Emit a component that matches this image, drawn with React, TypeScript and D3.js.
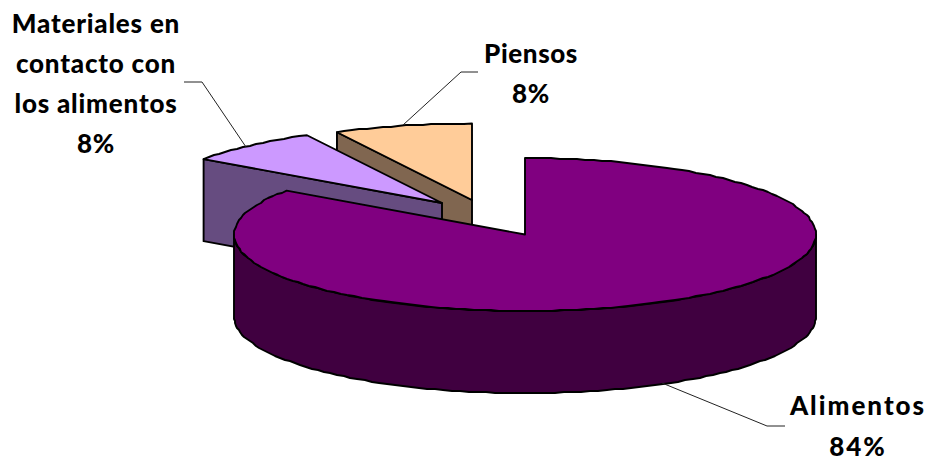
import * as d3 from 'd3';

const categories = ['Alimentos', 'Materiales en contacto con los alimentos', 'Piensos'];
const values = [84.72, 7.6, 7.68];
const topColors = ['#800080', '#CC99FF', '#FFCC99'];
const wallColors = ['#400040', '#664C80', '#806650'];

const WIDTH = 930;
const HEIGHT = 461;
const RX = 291;
const RY = 76.5;
const DEPTH = 82;
// where each exploded slice has its apex
const apexes = [
  [525, 234.5],
  [442, 203],
  [472, 200],
];

const labels = [
  { lines: ['Alimentos', '84%'], x: 858, y: 415, step: 41, spacing: 2, leader: [[662, 383], [767, 426], [785, 426]] },
  {
    lines: ['Materiales en', 'contacto con', 'los alimentos', '8%'],
    x: 96,
    y: 33,
    step: 40,
    spacing: 0.8,
    leader: [[184, 82], [202, 82], [246, 147]],
  },
  { lines: ['Piensos', '8%'], x: 531, y: 63, step: 40, spacing: 0.6, leader: [[403, 125], [461, 72], [478, 72]] },
];

const pie = d3.pie<number>().sort(null)(values);
const lineGen = d3.line();

// rounded to the pixel grid, the reference outline is a bumpy polyline
const rim = (i: number, a0: number, a1: number, dy = 0): [number, number][] => {
  const [cx, cy] = apexes[i];
  const x = d3.scaleLinear().domain([-1, 1]).range([cx - RX, cx + RX]);
  const y = d3.scaleLinear().domain([-1, 1]).range([cy - RY, cy + RY]);
  const n = Math.max(1, Math.ceil(Math.abs(a1 - a0) / 0.03));
  return d3.range(n + 1).map((k) => {
    const a = a0 + ((a1 - a0) * k) / n;
    const edge = k === 0 || k === n;
    const px = x(Math.sin(a));
    const py = y(-Math.cos(a)) + dy;
    return edge ? [px, py] : [Math.round(px), Math.round(py)];
  });
};

function Slice({ i }: { i: number }) {
  const { startAngle, endAngle } = pie[i];
  const [cx, cy] = apexes[i];
  const stroke = { stroke: '#000', strokeWidth: 1.9, strokeLinejoin: 'round' as const };

  const top = lineGen([[cx, cy], ...rim(i, startAngle, endAngle)]) + 'Z';

  const cut = (a: number) => {
    const [p] = rim(i, a, a);
    return (
      lineGen([
        [cx, cy],
        p,
        [p[0], p[1] + DEPTH],
        [cx, cy + DEPTH],
      ]) + 'Z'
    );
  };

  // outer wall only shows on the front half of the ellipse
  const a0 = Math.max(startAngle, Math.PI / 2);
  const a1 = Math.min(endAngle, (3 * Math.PI) / 2);

  return (
    <g>
      {-Math.sin(startAngle) > 1e-6 && <path d={cut(startAngle)} fill={wallColors[i]} {...stroke} />}
      {Math.sin(endAngle) > 1e-6 && <path d={cut(endAngle)} fill={wallColors[i]} {...stroke} />}
      {a1 > a0 && (
        <path
          d={lineGen([...rim(i, a0, a1), ...rim(i, a1, a0, DEPTH)]) + 'Z'}
          fill={wallColors[i]}
          {...stroke}
        />
      )}
      <path d={top} fill={topColors[i]} {...stroke} />
    </g>
  );
}

export default function App() {
  return (
    <svg
      width={WIDTH}
      height={HEIGHT}
      style={{ position: 'absolute', left: 0, top: 0, background: '#fff' }}
      aria-label={categories.join(', ')}
    >
      {[2, 1, 0].map((i) => (
        <Slice key={i} i={i} />
      ))}
      {labels.map((l) => (
        <g key={l.lines[0]}>
          <path d={lineGen(l.leader as [number, number][]) ?? ''} fill="none" stroke="#222" strokeWidth={1} />
          <text
            textAnchor="middle"
            fontFamily="Lato, sans-serif"
            fontWeight={900}
            fontSize={26}
            letterSpacing={l.spacing}
            fill="#000"
          >
            {l.lines.map((t, k) => (
              <tspan key={t} x={l.x} y={l.y + k * l.step}>
                {t}
              </tspan>
            ))}
          </text>
        </g>
      ))}
    </svg>
  );
}
